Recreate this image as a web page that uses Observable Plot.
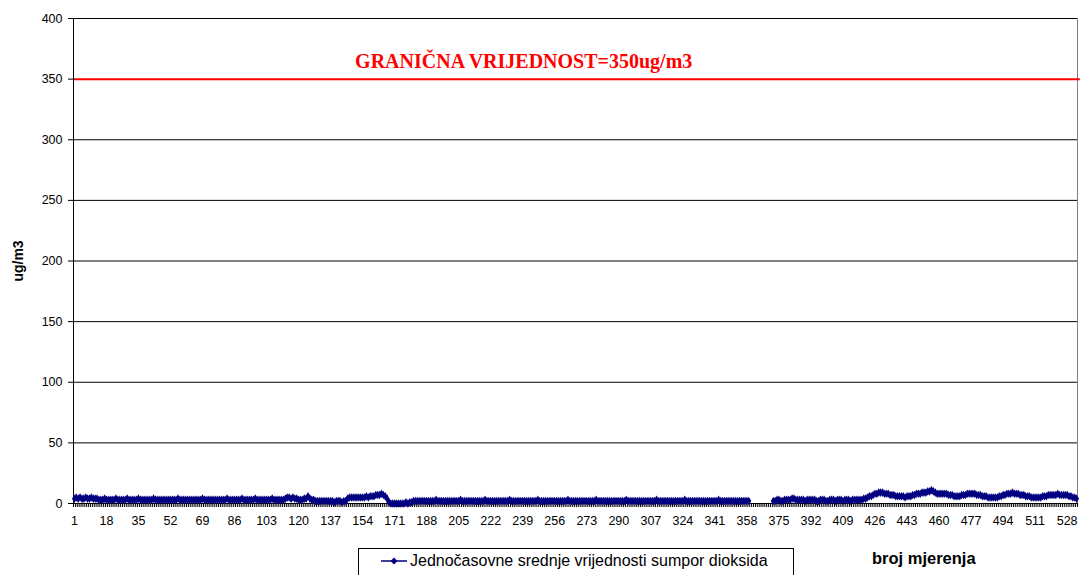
<!DOCTYPE html>
<html>
<head>
<meta charset="utf-8">
<script src="https://cdn.jsdelivr.net/npm/d3@7"></script>
<script src="https://cdn.jsdelivr.net/npm/@observablehq/plot@0.6"></script>
<style>
  body { margin: 0; background: #fff; font-family: "Liberation Sans", Arial, sans-serif; }
  #wrap { position: relative; width: 1083px; height: 575px; overflow: hidden; }
  #chart svg { display: block; }
  #bottom { position: relative; height: 29px; }
  #legend { position: absolute; left: 358px; top: 2px; width: 436px; height: 30px; border: 1px solid #000; border-bottom: none; box-sizing: border-box; font-size: 16px; color: #000; display: flex; align-items: center; padding-left: 22px; padding-bottom: 6px; white-space: nowrap; }
  #legend svg { margin-right: 3px; }
  #xtitle { position: absolute; left: 872px; top: 3px; font-size: 16.5px; font-weight: bold; color: #000; }
</style>
</head>
<body>
<div id="wrap">
  <div id="chart"></div>
  <div id="bottom">
    <div id="legend"><svg width="26" height="10"><line x1="0" y1="5" x2="26" y2="5" stroke="#000080" stroke-width="1.5"/><path d="M13,1.5 L16.5,5 L13,8.5 L9.5,5 Z" fill="#000080"/></svg><span id="legendText"></span></div>
    <div id="xtitle"></div>
  </div>
</div>
<script>
// ---- data ----
const seriesName = "Jednočasovne srednje vrijednosti sumpor dioksida";
const xTitle = "broj mjerenja";
const yTitle = "ug/m3";
const limitValue = 350;
const limitLabel = "GRANIČNA VRIJEDNOST=350ug/m3";
const limitLabelAt = 150;           // category where the limit label starts
const categoryCount = 533;
const yTicks = [0, 50, 100, 150, 200, 250, 300, 350, 400];
const gridValues = [50, 100, 150, 200, 250, 300, 400];
const xTickLabels = [1, 18, 35, 52, 69, 86, 103, 120, 137, 154, 171, 188, 205, 222, 239, 256, 273, 290, 307, 324, 341, 358, 375, 392, 409, 426, 443, 460, 477, 494, 511, 528];

// hourly mean SO2 values, measurements 1..533 (null = missing)
const values = [
  4,5,4,5,4,4,5,4,4,5,      // 1
  4,4,4,3,3,3,4,3,3,3,      // 11
  3,3,4,3,3,3,3,3,4,3,      // 21
  3,3,3,3,4,3,3,3,3,3,      // 31
  3,3,4,3,3,3,3,3,3,3,      // 41
  3,3,3,3,3,4,3,3,3,3,      // 51
  3,3,3,3,3,3,3,3,4,3,      // 61
  3,3,3,3,3,3,3,3,3,3,      // 71
  3,4,3,3,3,3,3,3,3,4,      // 81
  3,3,3,3,3,3,4,3,3,3,      // 91
  3,3,3,3,3,4,3,3,3,3,      // 101
  3,3,4,5,5,4,5,4,4,3,      // 111
  3,3,4,4,6,4,3,3,2,2,      // 121
  2,2,2,2,2,2,2,2,1,2,      // 131
  2,2,1,2,2,4,5,5,5,5,      // 141
  5,5,5,5,5,6,5,6,6,6,      // 151
  7,7,7,8,7,6,4,1,0,0,      // 161
  0,0,0,0,0,0,1,0,1,1,      // 171
  2,2,2,2,2,2,2,2,2,2,      // 181
  2,2,3,2,2,2,2,2,2,2,      // 191
  2,2,2,2,2,3,2,2,2,2,      // 201
  2,2,2,2,2,2,2,2,3,2,      // 211
  2,2,2,2,2,2,2,2,2,2,      // 221
  2,3,2,2,2,2,2,2,2,2,      // 231
  2,2,2,2,2,2,3,2,2,2,      // 241
  2,2,2,2,2,2,2,2,2,2,      // 251
  2,2,3,2,2,2,2,2,2,2,      // 261
  2,2,2,2,2,2,2,3,2,2,      // 271
  2,2,2,2,2,2,2,2,2,2,      // 281
  2,2,2,3,2,2,2,2,2,2,      // 291
  2,2,2,2,2,2,2,2,2,3,      // 301
  2,2,2,2,2,2,2,2,2,2,      // 311
  2,2,2,2,3,2,2,2,2,2,      // 321
  2,2,2,2,2,2,2,2,2,2,      // 331
  2,2,3,2,2,2,2,2,2,2,      // 341
  2,2,2,2,2,2,2,2,2,        // 351
  null,null,null,null,null,null,null,null,null,null,null,null, // 360
  2,2,3,3,2,2,3,3,3,        // 372
  3,4,4,3,3,3,3,3,2,3,      // 381
  3,3,3,3,2,2,3,3,3,2,      // 391
  2,3,3,3,2,3,3,3,2,3,      // 401
  3,3,2,3,3,3,3,3,3,4,      // 411
  4,5,6,6,7,8,8,9,9,9,      // 421
  8,8,8,7,7,7,6,6,6,6,      // 431
  6,5,6,6,6,7,7,8,8,8,      // 441
  9,9,9,10,10,11,10,9,8,8,  // 451
  8,8,8,8,7,7,7,6,6,6,      // 461
  6,7,7,7,8,8,8,8,8,7,      // 471
  7,7,6,6,6,5,5,5,5,5,      // 481
  5,6,6,7,7,8,8,8,9,8,      // 491
  8,8,7,7,7,6,6,6,5,5,      // 501
  5,5,5,5,6,6,6,7,7,7,      // 511
  7,7,8,7,7,7,7,7,6,6,      // 521
  5,5,4                     // 531
];

// ---- build ----
const data = values.map((v, k) => ({i: k + 1, v}));
const points = data.filter(d => d.v != null);
const boundaries = d3.range(0.5, categoryCount + 1, 1);
const annotation = [{x: limitLabelAt, y: limitValue, text: limitLabel}];

document.getElementById("legendText").textContent = seriesName;
document.getElementById("xtitle").textContent = xTitle;

const chart = Plot.plot({
  width: 1083,
  height: 546,
  marginLeft: 73,
  marginRight: 6,
  marginTop: 18,
  marginBottom: 43,
  style: {fontFamily: "'Liberation Sans', Arial, sans-serif", fontSize: "12.5px", color: "#000", background: "#fff"},
  x: {domain: [0.5, categoryCount + 0.5]},
  y: {domain: [0, 400]},
  marks: [
    Plot.ruleY(gridValues, {stroke: "#000", strokeWidth: 1}),
    Plot.ruleX([categoryCount + 0.5], {stroke: "#808080"}),
    Plot.ruleY([limitValue], {x1: 0.5, x2: categoryCount + 2, stroke: "#ff0000", strokeWidth: 2}),
    Plot.text(annotation, {x: "x", y: "y", text: "text", textAnchor: "start", lineAnchor: "middle", dy: -18,
      fill: "#ff0000", fontFamily: "'Liberation Serif', 'Times New Roman', serif", fontWeight: "bold", fontSize: 20}),
    Plot.axisY({ticks: yTicks, tickSize: 5, tickPadding: 6, label: null}),
    Plot.axisX({ticks: boundaries, tickSize: 4, tickFormat: () => "", label: null}),
    Plot.axisX({ticks: xTickLabels, tickSize: 0, tickPadding: 13, label: null}),
    Plot.ruleX([0.5], {stroke: "#000"}),
    Plot.ruleY([0], {stroke: "#000"}),
    Plot.line(data, {x: "i", y: "v", stroke: "#000080", strokeWidth: 2}),
    Plot.dot(points, {x: "i", y: "v", symbol: "diamond", fill: "#000080", r: 2.6}),
    Plot.text([yTitle], {frameAnchor: "left", dx: -55, rotate: -90, textAnchor: "middle", fontWeight: "bold", fontSize: 14, fill: "#000"})
  ]
});
document.getElementById("chart").appendChild(chart);
</script>
</body>
</html>
